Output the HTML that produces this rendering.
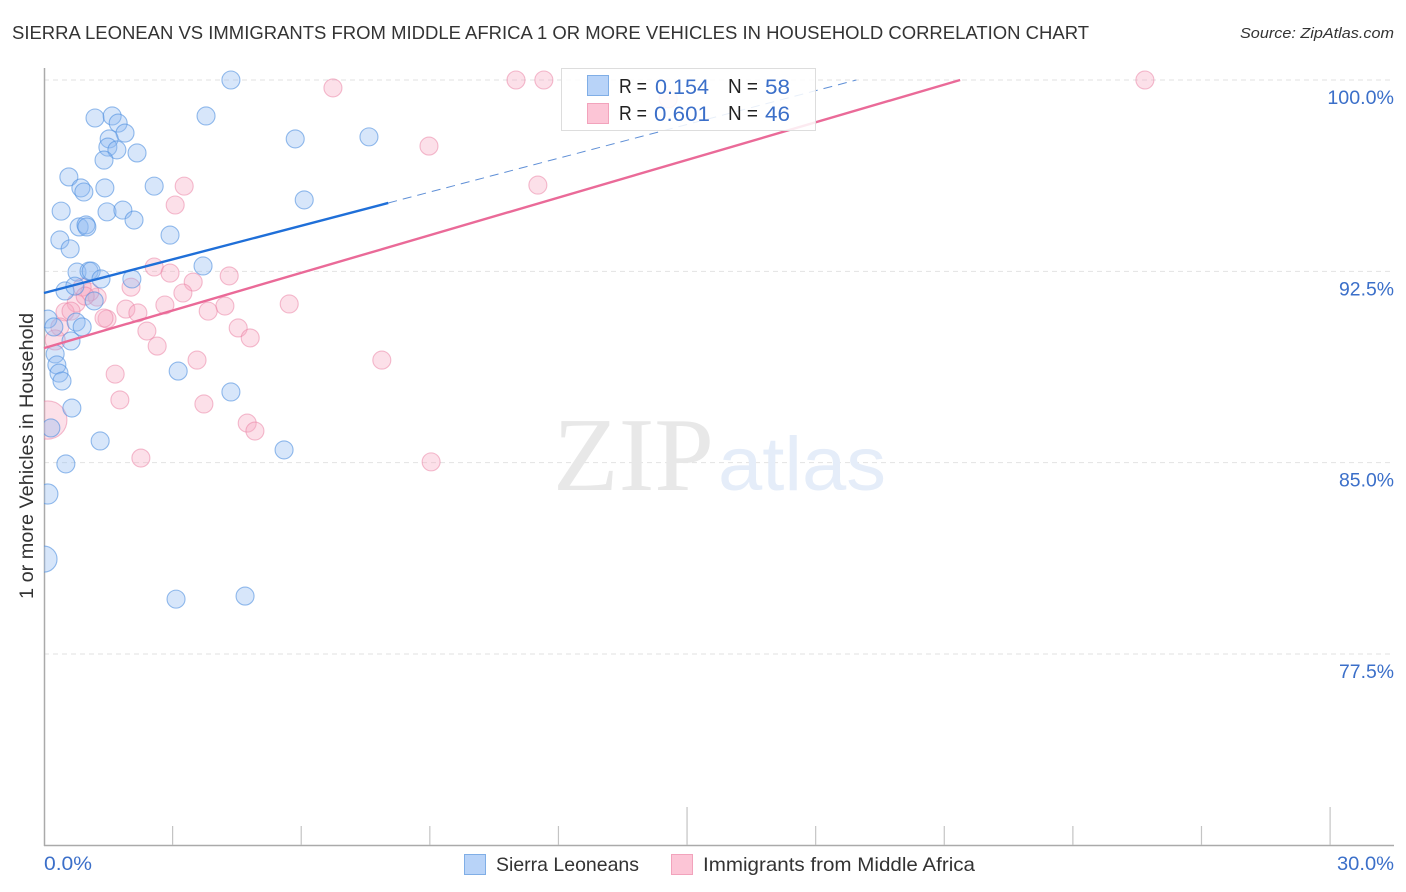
<!DOCTYPE html>
<html lang="en">
<head>
<meta charset="utf-8">
<title>Sierra Leonean vs Immigrants from Middle Africa correlation chart</title>
<style>
html,body{margin:0;padding:0;background:#fff;width:1406px;height:892px;overflow:hidden}
svg{display:block;font-family:"Liberation Sans",sans-serif}
</style>
</head>
<body>
<svg id="chart" xmlns="http://www.w3.org/2000/svg" width="1406" height="892" viewBox="0 0 1406 892">
<defs><clipPath id="plot-clip"><rect x="44" y="60" width="1350" height="786"/></clipPath></defs>
<text x="12" y="39" font-size="18.6" fill="#333" textLength="1077" lengthAdjust="spacingAndGlyphs">SIERRA LEONEAN VS IMMIGRANTS FROM MIDDLE AFRICA 1 OR MORE VEHICLES IN HOUSEHOLD CORRELATION CHART</text>
<text x="1394" y="38" font-size="15" font-style="italic" fill="#333" text-anchor="end" textLength="154" lengthAdjust="spacingAndGlyphs">Source: ZipAtlas.com</text>
<text transform="translate(33,456) rotate(-90)" font-size="19" fill="#333" text-anchor="middle" textLength="286" lengthAdjust="spacingAndGlyphs">1 or more Vehicles in Household</text>
<g id="grid"></g>
<g>
<text x="553" y="490" font-family="'Liberation Serif',serif" font-size="105" fill="#e8e8e8" textLength="161" lengthAdjust="spacingAndGlyphs">ZIP</text>
<text x="718" y="490" font-family="'Liberation Sans',sans-serif" font-size="76" fill="#e5edf9" textLength="168" lengthAdjust="spacingAndGlyphs">atlas</text>
</g>
<g id="axes"></g>
<g id="points" clip-path="url(#plot-clip)"></g>
<g id="trends"></g>
<g>
<rect x="561.5" y="68.5" width="254" height="62" fill="#fff" fill-opacity="0.86" stroke="#ddd" stroke-width="1"/>
<rect x="587.5" y="75.5" width="21" height="20" fill="#b8d3f8" stroke="#80aee6"/>
<rect x="587.5" y="103.5" width="21" height="20" fill="#fcc5d6" stroke="#f2a3bc"/>
<g font-size="20">
<text x="619" y="93" fill="#222" textLength="28" lengthAdjust="spacingAndGlyphs">R =</text>
<text x="655" y="94" fill="#3b6fc9" font-size="21" textLength="54" lengthAdjust="spacingAndGlyphs">0.154</text>
<text x="728" y="93" fill="#222" textLength="30" lengthAdjust="spacingAndGlyphs">N =</text>
<text x="765" y="94" fill="#3b6fc9" font-size="21" textLength="25" lengthAdjust="spacingAndGlyphs">58</text>
<text x="619" y="120" fill="#222" textLength="28" lengthAdjust="spacingAndGlyphs">R =</text>
<text x="654" y="121" fill="#3b6fc9" font-size="21" textLength="56" lengthAdjust="spacingAndGlyphs">0.601</text>
<text x="728" y="120" fill="#222" textLength="30" lengthAdjust="spacingAndGlyphs">N =</text>
<text x="765" y="121" fill="#3b6fc9" font-size="21" textLength="25" lengthAdjust="spacingAndGlyphs">46</text>
</g>
</g>
<g>
<rect x="464.5" y="854.5" width="21" height="20" fill="#b8d3f8" stroke="#80aee6"/>
<text x="496" y="871" font-size="19.5" fill="#333" textLength="143" lengthAdjust="spacingAndGlyphs">Sierra Leoneans</text>
<rect x="671.5" y="854.5" width="21" height="20" fill="#fcc5d6" stroke="#f2a3bc"/>
<text x="703" y="871" font-size="19.5" fill="#333" textLength="272" lengthAdjust="spacingAndGlyphs">Immigrants from Middle Africa</text>
</g>
</svg>
<script>
const xTickValues = [0, 3, 6, 9, 12, 15, 18, 21, 24, 27, 30];
const xMajorTicks = [15, 30];
const xTickLabels = ['0.0%', '30.0%'];
const yTickValues = [100, 92.5, 85, 77.5];
const yTickLabels = ['100.0%', '92.5%', '85.0%', '77.5%'];

const blueX = [4.36,3.78,1.19,1.59,1.73,1.89,1.52,1.49,1.70,2.17,1.40,5.86,7.58,6.07,0.58,0.86,0.93,1.42,2.57,0.40,1.47,1.84,2.10,0.82,0.98,1.00,0.37,0.61,2.94,3.71,0.77,1.05,1.10,1.33,2.05,0.49,0.72,1.17,0.09,0.23,0.75,0.89,0.63,0.26,0.30,0.35,0.42,3.13,4.36,0.65,0.16,1.31,5.60,0.51,0.09,0,3.08,4.69];
const blueY = [100,98.59,98.51,98.59,98.31,97.92,97.69,97.37,97.26,97.14,96.86,97.69,97.77,95.30,96.20,95.77,95.61,95.77,95.84,94.86,94.83,94.90,94.51,94.24,94.32,94.24,93.73,93.38,93.92,92.71,92.47,92.51,92.51,92.20,92.20,91.73,91.92,91.34,90.63,90.32,90.51,90.32,89.77,89.26,88.83,88.51,88.20,88.59,87.77,87.14,86.36,85.85,85.50,84.95,83.77,81.22,79.65,79.77];
const blueWeights = [1,1,1,1,1,1,1,1,1,1,1,1,1,1,1,1,1,1,1,1,1,1,1,1,1,1,1,1,1,1,1,1,1,1,1,1,1,1,1,1,1,1,1,1,1,1,1,1,1,1,1,1,1,1,1.25,2.1,1,1];

const pinkX = [6.74,11.01,11.66,25.68,8.98,11.52,3.27,3.06,2.57,2.94,4.32,3.48,2.03,3.24,5.72,2.82,4.22,3.83,1.91,2.19,1.24,1.07,0.89,0.75,0.49,0.63,1.47,1.40,0.37,4.53,2.40,4.81,2.64,0.26,3.57,7.88,1.66,1.77,3.73,4.74,4.92,2.26,9.03,0.09,0.96,14.56];
const pinkY = [99.69,100,100,100,97.41,95.88,95.84,95.10,92.67,92.43,92.32,92.08,91.88,91.65,91.22,91.18,91.14,90.94,91.02,90.87,91.49,91.69,91.88,91.26,90.91,90.94,90.63,90.67,90.32,90.28,90.16,89.89,89.57,89.81,89.02,89.02,88.47,87.46,87.30,86.55,86.24,85.18,85.03,86.67,91.53,99.26];
const pinkWeights = [1,1,1,1,1,1,1,1,1,1,1,1,1,1,1,1,1,1,1,1,1,1,1,1,1,1,1,1,1,1,1,1,1,1.25,1,1,1,1,1,1,1,1,1,4.5,1,1];

const blueTrendX = [0, 8.03];
const blueTrendY = [91.65, 95.18];
const blueDashX = [8.03, 18.95];
const blueDashY = [95.18, 100];
const pinkTrendX = [0, 21.37];
const pinkTrendY = [89.49, 100];

const NS = 'http://www.w3.org/2000/svg';
const xScale = v => 44 + v * 42.87;
const yScale = v => 80 + (100 - v) * 25.51;
const radius = w => 9 * Math.sqrt(w);

function make(parent, tag, attrs) {
  const el = document.createElementNS(NS, tag);
  for (const k in attrs) el.setAttribute(k, attrs[k]);
  parent.appendChild(el);
  return el;
}

const grid = document.getElementById('grid');
const axes = document.getElementById('axes');
const points = document.getElementById('points');
const trends = document.getElementById('trends');

yTickValues.forEach((v, i) => {
  const line = make(grid, 'line', {x1: 44, x2: 1394, y1: yScale(v), y2: yScale(v), stroke: '#e2e2e2', 'stroke-width': 1, 'stroke-dasharray': '5 4'});
  
  
  const label = make(axes, 'text', {x: 1394, y: yScale(v) + 24, 'font-size': 19.5, fill: '#3b6fc9', 'text-anchor': 'end', textLength: 11.6 * yTickLabels[i].length - 3, lengthAdjust: 'spacingAndGlyphs'});
  label.textContent = yTickLabels[i];
  
  
});

const yAxis = make(axes, 'line', {x1: 44.5, x2: 44.5, y1: 68, y2: 846, stroke: '#aaa', 'stroke-width': 1.5});


const xAxis = make(axes, 'line', {x1: 44, x2: 1394, y1: 845.5, y2: 845.5, stroke: '#aaa', 'stroke-width': 1.5});



xTickValues.slice(1).forEach(v => {
  const top = xMajorTicks.includes(v) ? 807 : 826;
  const tick = make(axes, 'line', {x1: xScale(v), x2: xScale(v), y1: top, y2: 845, stroke: '#c4c4c4', 'stroke-width': 1.2});
  
  
});

const xLabelLeft = make(axes, 'text', {x: 44, y: 870, 'font-size': 19.5, fill: '#3b6fc9', textLength: 48, lengthAdjust: 'spacingAndGlyphs'});
xLabelLeft.textContent = xTickLabels[0];


const xLabelRight = make(axes, 'text', {x: 1394, y: 870, 'font-size': 19.5, fill: '#3b6fc9', 'text-anchor': 'end', textLength: 57, lengthAdjust: 'spacingAndGlyphs'});
xLabelRight.textContent = xTickLabels[1];



pinkX.forEach((v, i) => {
  const c = make(points, 'circle', {cx: xScale(v), cy: yScale(pinkY[i]), r: radius(pinkWeights[i]), fill: '#f8a9c2', 'fill-opacity': 0.36, stroke: '#ea7ba0', 'stroke-opacity': 0.5, 'stroke-width': 1.1});
  
  
});
blueX.forEach((v, i) => {
  const c = make(points, 'circle', {cx: xScale(v), cy: yScale(blueY[i]), r: radius(blueWeights[i]), fill: '#8fbaf0', 'fill-opacity': 0.36, stroke: '#4f8fe0', 'stroke-opacity': 0.6, 'stroke-width': 1.1});
  
  
});

const blueDash = make(trends, 'line', {x1: xScale(blueDashX[0]), y1: yScale(blueDashY[0]), x2: xScale(blueDashX[1]), y2: yScale(blueDashY[1]), stroke: '#5f8fd6', 'stroke-width': 1, 'stroke-dasharray': '9 6'});


const blueLine = make(trends, 'line', {x1: xScale(blueTrendX[0]), y1: yScale(blueTrendY[0]), x2: xScale(blueTrendX[1]), y2: yScale(blueTrendY[1]), stroke: '#1f6fd8', 'stroke-width': 2.4});


const pinkLine = make(trends, 'line', {x1: xScale(pinkTrendX[0]), y1: yScale(pinkTrendY[0]), x2: xScale(pinkTrendX[1]), y2: yScale(pinkTrendY[1]), stroke: '#ea6a98', 'stroke-width': 2.4});


</script>
</body>
</html>
